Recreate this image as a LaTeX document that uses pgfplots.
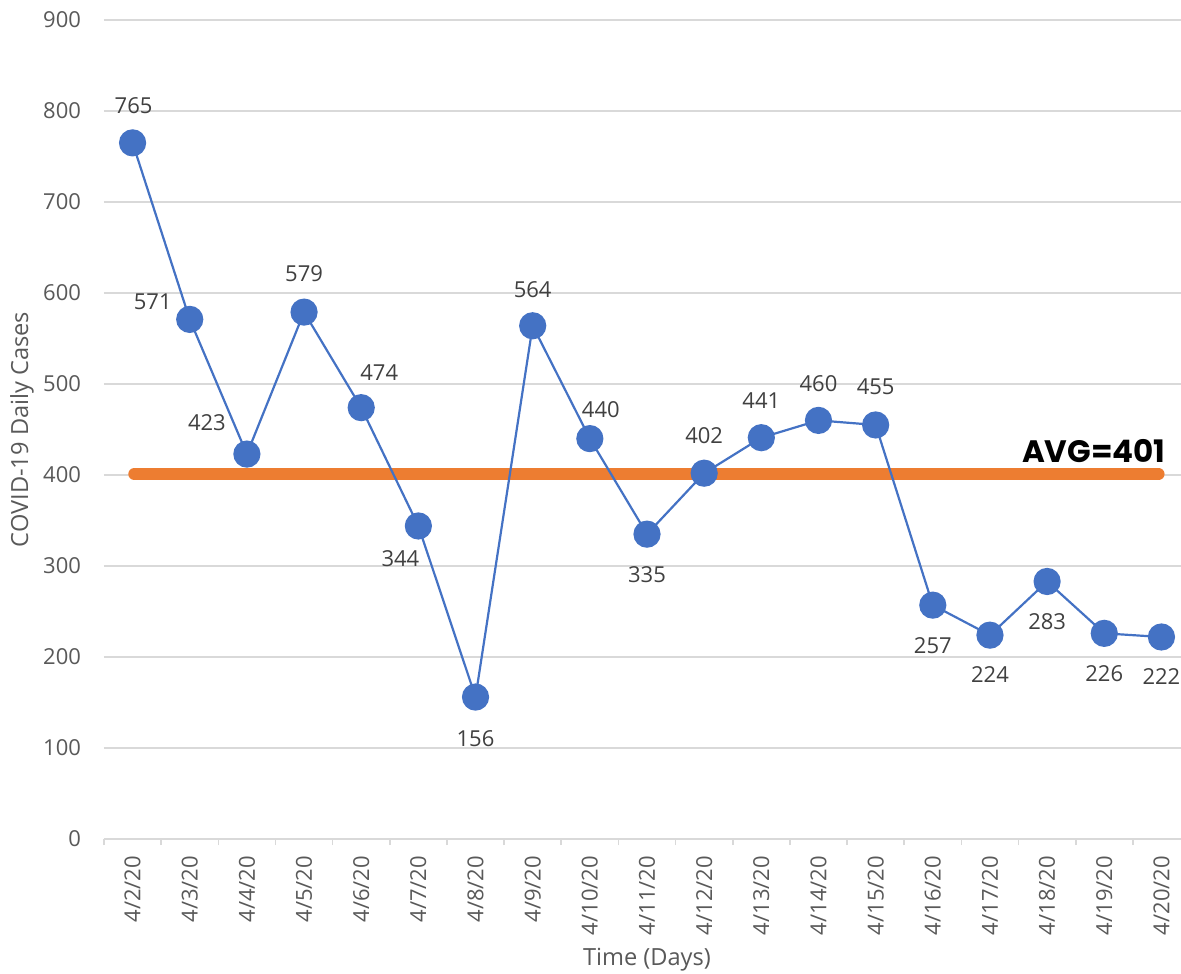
\documentclass[border=0pt]{standalone}
\usepackage{pgfplots}
\pgfplotsset{compat=1.18}
\usepackage{pgfplotstable}
\usepackage{fontspec}
\setmainfont{Open Sans}
\newfontfamily\avgfont{Poppins}
\definecolor{c1}{HTML}{4472C4}
\definecolor{c2}{HTML}{ED7D31}
\definecolor{gridc}{HTML}{D9D9D9}
\definecolor{tickc}{HTML}{595959}
\definecolor{labc}{HTML}{404040}
\pgfplotstableread{
x y dx dy
0 765 0.5 18.5
1 571 -18.5 9
2 423 -20 15.5
3 579 0 19
4 474 9 17.5
5 344 -9 -16.5
6 156 0 -21
7 564 0 18
8 440 5.5 14.5
9 335 0 -20
10 402 0 19
11 441 0 18.5
12 460 0 18.5
13 455 0 19
14 257 0 -20.5
15 224 0 -19.5
16 283 0 -20
17 226 0 -20
18 222 0 -20
}\data
\begin{document}
\begin{tikzpicture}
\useasboundingbox (-52pt,-67pt) rectangle (538.5pt,419.5pt);
\begin{axis}[
  at={(0,0)}, anchor=south west,
  scale only axis,
  width=543pt, height=409.5pt,
  xmin=-0.5, xmax=18.5,
  ymin=0, ymax=900,
  ytick={0,100,...,900},
  xtick={0,...,18},
  xticklabels={4/2/20,4/3/20,4/4/20,4/5/20,4/6/20,4/7/20,4/8/20,4/9/20,4/10/20,4/11/20,4/12/20,4/13/20,4/14/20,4/15/20,4/16/20,4/17/20,4/18/20,4/19/20,4/20/20},
  extra x ticks={-0.5,0.5,...,17.5},
  extra x tick labels={},
  extra x tick style={major tick length=3pt, tick align=outside, tick style={draw=gridc, line width=0.8pt}},
  major tick length=0pt,
  axis x line*=bottom,
  axis y line*=left,
  y axis line style={draw=none},
  x axis line style={draw=gridc, line width=0.8pt, -},
  ymajorgrids,
  grid style={draw=gridc, line width=0.8pt},
  /pgf/number format/assume math mode=true,
  tick label style={font=\fontsize{11}{13}\selectfont, text=tickc},
  yticklabel style={anchor=east, xshift=-8pt},
  yticklabel={\pgfmathprintnumber{\tick}},
  xticklabel style={rotate=90, anchor=east, xshift=-5pt},
  xlabel={Time (Days)},
  ylabel={COVID-19 Daily Cases},
  every axis x label/.style={at={(axis description cs:0.5,0)}, yshift=-60.5pt, anchor=center, font=\fontsize{11.8}{14}\selectfont, text=tickc},
  every axis y label/.style={at={(axis description cs:0,0.5)}, xshift=-41pt, rotate=90, anchor=center, font=\fontsize{11.8}{14}\selectfont, text=tickc},
  clip=false,
]
\addplot[draw=c2, line width=6pt, line cap=round] coordinates {(0.03,401) (17.95,401)};
\addplot[draw=c1, line width=1.1pt, mark=*, mark size=6.25pt, mark options={fill=c1, draw=c1},
  nodes near coords, point meta=explicit symbolic,
  visualization depends on={\thisrow{dx} \as \dx},
  visualization depends on={\thisrow{dy} \as \dy},
  every node near coord/.style={anchor=center, xshift=\dx pt, yshift=\dy pt, font=\fontsize{11}{13}\selectfont, text=labc}
] table[x=x, y=y, meta=y] {\data};
\node[anchor=base east, font=\avgfont\bfseries\fontsize{15.5}{18}\selectfont, text=black, inner sep=0pt] at (axis cs:18.08,414) {AVG=401};
\end{axis}
\end{tikzpicture}
\end{document}
